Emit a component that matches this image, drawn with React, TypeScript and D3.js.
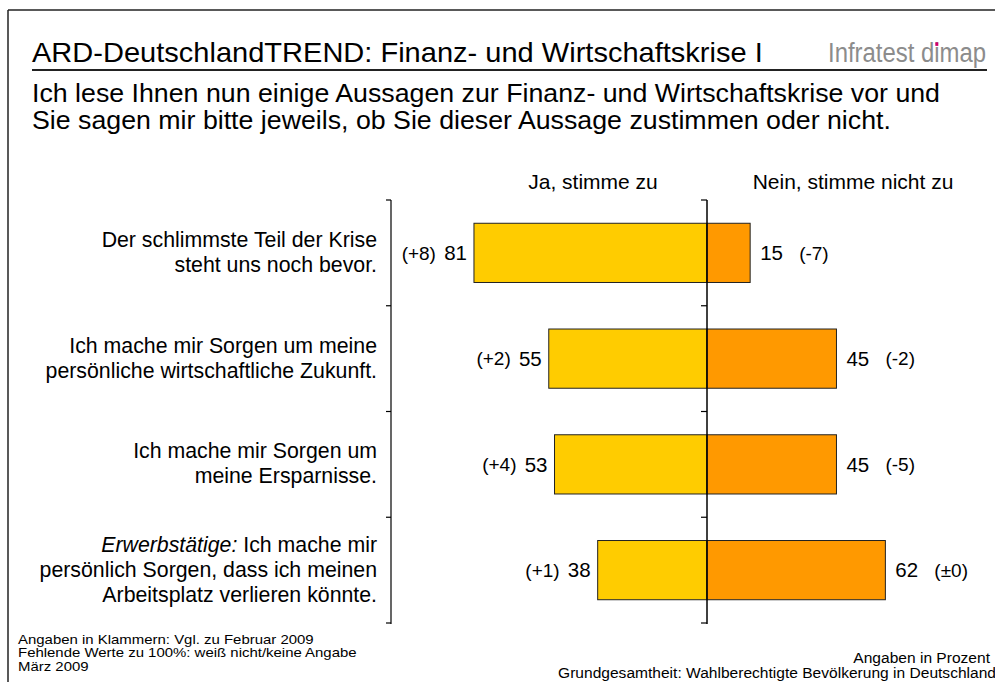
import React from "react";
import * as d3 from "d3";

const categories = ["c1", "c2", "c3", "c4"];
const labelLines: string[][] = [
  ["Der schlimmste Teil der Krise", "steht uns noch bevor."],
  ["Ich mache mir Sorgen um meine", "persönliche wirtschaftliche Zukunft."],
  ["Ich mache mir Sorgen um", "meine Ersparnisse."],
  ["|Erwerbstätige:| Ich mache mir", "persönlich Sorgen, dass ich meinen", "Arbeitsplatz verlieren könnte."],
];
const yesValues = [81, 55, 53, 38];
const noValues = [15, 45, 45, 62];
const yesChange = ["(+8)", "(+2)", "(+4)", "(+1)"];
const noChange = ["(-7)", "(-2)", "(-5)", "(±0)"];
const subtitleLines = [
  "Ich lese Ihnen nun einige Aussagen zur Finanz- und Wirtschaftskrise vor und",
  "Sie sagen mir bitte jeweils, ob Sie dieser Aussage zustimmen oder nicht.",
];
const footLeft = ["Angaben in Klammern: Vgl. zu Februar 2009", "Fehlende Werte zu 100%: weiß nicht/keine Angabe", "März 2009"];
const footRight = ["Angaben in Prozent", "Grundgesamtheit: Wahlberechtigte Bevölkerung in Deutschland"];

const FONT = "'Liberation Sans', Arial, sans-serif";

export default function App() {
  const cx = 707;
  const x = d3.scaleLinear().domain([0, 100]).range([0, 287.7]);
  const y = d3.scaleBand<string>().domain(categories).range([200, 623]).paddingInner(0.44).paddingOuter(0.22);
  const step = y.step();
  const gap = (step - y.bandwidth()) / 2;
  const bounds = categories.map((c) => (y(c) as number) - gap);
  bounds.push(623);

  return (
    <svg width={995} height={682} style={{ position: "absolute", left: 0, top: 0, background: "#fff" }} fontFamily={FONT}>
      <rect x={0} y={0} width={995} height={682} fill="#fff" />
      {/* frame */}
      <line x1={8} y1={10} x2={995} y2={10} stroke="#222" strokeWidth={1.5} />
      <line x1={8} y1={10} x2={8} y2={682} stroke="#222" strokeWidth={1.5} />
      {/* title */}
      <g transform="translate(32,62) scale(1.06,1)">
        <text x={0} y={0} fontSize={27.4} fill="#000">ARD-DeutschlandTREND: Finanz- und Wirtschaftskrise I</text>
      </g>
      <g transform="translate(986,62) scale(0.885,1)">
        <text x={0} y={0} fontSize={27} fill="#8c8c8c" textAnchor="end">Infratest dimap</text>
      </g>
      <rect x={935.3} y={42.3} width={3} height={3.6} fill="#d1006b" />
      <line x1={32} y1={70} x2={987} y2={70} stroke="#222" strokeWidth={2} />
      {subtitleLines.map((t, i) => (
        <g key={"s" + i} transform={`translate(32,${102 + i * 26.5}) scale(1.07,1)`}>
          <text x={0} y={0} fontSize={25} fill="#000">{t}</text>
        </g>
      ))}

      {/* column headers */}
      <text x={593} y={189} fontSize={21} textAnchor="middle">Ja, stimme zu</text>
      <text x={853} y={189} fontSize={21} textAnchor="middle">Nein, stimme nicht zu</text>

      {/* bars */}
      {categories.map((c, i) => {
        const top = y(c) as number;
        const h = y.bandwidth();
        const mid = top + h / 2;
        const yl = cx - x(yesValues[i]);
        const nr = cx + x(noValues[i]);
        return (
          <g key={c}>
            <rect x={yl} y={top} width={x(yesValues[i])} height={h} fill="#FFCC00" stroke="#222" strokeWidth={1} />
            <rect x={cx} y={top} width={x(noValues[i])} height={h} fill="#FF9900" stroke="#222" strokeWidth={1} />
            <text x={yl - 7} y={mid} dy="0.35em" fontSize={20.5} textAnchor="end">{yesValues[i]}</text>
            <text x={yl - 38} y={mid} dy="0.35em" fontSize={19} textAnchor="end">{yesChange[i]}</text>
            <text x={nr + 10} y={mid} dy="0.35em" fontSize={20.5}>{noValues[i]}</text>
            <text x={nr + 49} y={mid} dy="0.35em" fontSize={19}>{noChange[i]}</text>
            {labelLines[i].map((ln, j) => {
              const n = labelLines[i].length;
              const ly = mid + (j - (n - 1) / 2) * 25 - 1;
              const parts = ln.split("|");
              return (
                <text key={j} x={377} y={ly} dy="0.35em" fontSize={21.3} textAnchor="end">
                  {parts.map((p, k) => (
                    <tspan key={k} fontStyle={k === 1 ? "italic" : "normal"}>{p}</tspan>
                  ))}
                </text>
              );
            })}
          </g>
        );
      })}

      {/* center axis */}
      <line x1={cx} y1={200} x2={cx} y2={624} stroke="#000" strokeWidth={1.5} />
      {bounds.map((b, i) => (
        <line key={"t" + i} x1={cx - 6} y1={b} x2={cx} y2={b} stroke="#000" strokeWidth={1.2} />
      ))}
      {/* left bracket */}
      <line x1={391} y1={200} x2={391} y2={624} stroke="#000" strokeWidth={1.2} />
      {bounds.map((b, i) => (
        <line key={"l" + i} x1={386} y1={b} x2={391} y2={b} stroke="#000" strokeWidth={1.2} />
      ))}

      {/* footers */}
      {footLeft.map((t, i) => (
        <g key={"fl" + i} transform={`translate(18,${644 + i * 13.3}) scale(1.15,1)`}>
          <text x={0} y={0} fontSize={13}>{t}</text>
        </g>
      ))}
      {footRight.map((t, i) => (
        <g key={"fr" + i} transform={`translate(${i === 0 ? 990 : 996},${663 + i * 15}) scale(1.12,1)`}>
          <text x={0} y={0} fontSize={13.9} textAnchor="end">{t}</text>
        </g>
      ))}
    </svg>
  );
}
